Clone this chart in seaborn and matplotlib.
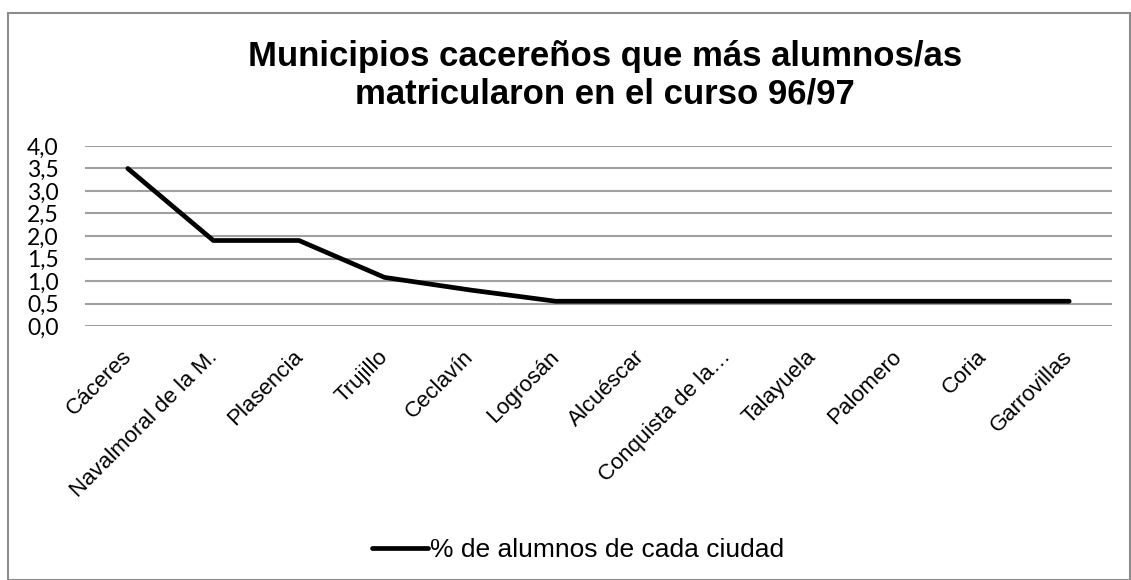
import matplotlib
matplotlib.use("Agg")
import pandas as pd
import seaborn as sns
import matplotlib.pyplot as plt
import matplotlib.transforms as mtransforms
from matplotlib.patches import Rectangle

municipios = ['Cáceres', 'Navalmoral de la M.', 'Plasencia', 'Trujillo', 'Ceclavín',
              'Logrosán', 'Alcuéscar', 'Conquista de la…', 'Talayuela', 'Palomero',
              'Coria', 'Garrovillas']
porcentaje = [3.5, 1.9, 1.9, 1.08, 0.8, 0.55, 0.55, 0.55, 0.55, 0.55, 0.55, 0.55]
y_ticks = [0.0, 0.5, 1.0, 1.5, 2.0, 2.5, 3.0, 3.5, 4.0]
serie = '% de alumnos de cada ciudad'

df = pd.DataFrame({'Municipio': municipios, 'Porcentaje': porcentaje})

sns.set_style("white")
plt.rcParams['font.family'] = ['Liberation Sans', 'DejaVu Sans']
plt.rcParams['text.color'] = 'black'
plt.rcParams['xtick.color'] = 'black'
plt.rcParams['ytick.color'] = 'black'

fig = plt.figure(figsize=(11.31, 5.80), dpi=100)
ax = fig.add_axes([85 / 1131, 1 - 326 / 580, 1027 / 1131, 180 / 580])

sns.lineplot(data=df, x='Municipio', y='Porcentaje', color='black', linewidth=3.4,
             sort=False, label=serie, ax=ax)

ax.set_ylim(0, 4.0)
ax.set_xlim(-0.5, len(municipios) - 0.5)
ax.set_yticks(y_ticks)
ax.set_yticklabels([f"{v:.1f}".replace('.', ',') for v in y_ticks],
                   fontsize=16.5, family=['Lato', 'DejaVu Sans'])
ax.set_xticks(range(len(municipios)))
ax.set_xticklabels(municipios, rotation=45, ha='right', rotation_mode='anchor', fontsize=16)
ax.tick_params(axis='y', length=0, pad=19)
ax.tick_params(axis='x', length=0, pad=11)

# nudge the rotated labels a bit left and down
offset = mtransforms.ScaledTranslation(-0.07, -0.05, fig.dpi_scale_trans)
for lbl in ax.get_xticklabels():
    lbl.set_transform(lbl.get_transform() + offset)

ax.grid(axis='y', color='#a0a0a0', linewidth=1.5)
ax.grid(axis='x', visible=False)
ax.set_axisbelow(True)
sns.despine(ax=ax, left=True, bottom=True)
ax.set_xlabel('')
ax.set_ylabel('')

ax.legend().remove()
handles, labels = ax.get_legend_handles_labels()
fig.legend(handles, labels, loc='center', bbox_to_anchor=(0.5115, 1 - 550 / 580), frameon=False,
           fontsize=19, handlelength=2.1, handletextpad=0.1)

fig.text(0.535, 1 - 75 / 580, 'Municipios cacereños que más alumnos/as\nmatricularon en el curso 96/97',
         ha='center', va='center', fontsize=25, fontweight='bold', linespacing=1.18)

fig.patches.append(Rectangle((8 / 1131, 0.0), 1 - 9 / 1131, 1 - 13 / 580, transform=fig.transFigure,
                             fill=False, edgecolor='#8c8c8c', linewidth=1.5))

fig.savefig('out.png', dpi=100)
